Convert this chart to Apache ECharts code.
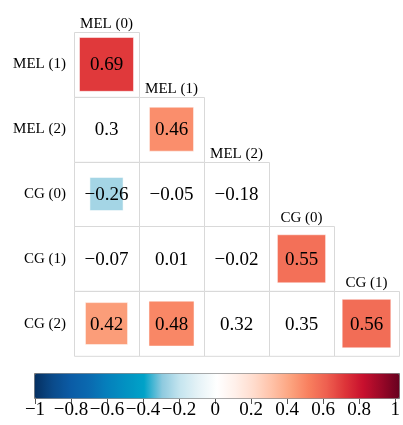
<!DOCTYPE html>
<html>
<head>
<meta charset="utf-8">
<script src="https://cdn.jsdelivr.net/npm/echarts@6/dist/echarts.min.js"></script>
<style>html,body{margin:0;padding:0;background:#fff}#c{width:403px;height:425px}</style>
</head>
<body>
<div id="c"></div>
<script>
// Column variables (x) and row variables (y) of the lower-triangular correlation matrix
var colNames = ['MEL (0)', 'MEL (1)', 'MEL (2)', 'CG (0)', 'CG (1)'];
var rowNames = ['MEL (1)', 'MEL (2)', 'CG (0)', 'CG (1)', 'CG (2)'];
// correlations, one row per row variable
var rowMEL1 = [0.69];
var rowMEL2 = [0.30, 0.46];
var rowCG0  = [-0.26, -0.05, -0.18];
var rowCG1  = [-0.07, 0.01, -0.02, 0.55];
var rowCG2  = [0.42, 0.48, 0.32, 0.35, 0.56];
// significance flags (1 = coloured square shown)
var sigMEL1 = [1];
var sigMEL2 = [0, 1];
var sigCG0  = [1, 0, 0];
var sigCG1  = [0, 0, 0, 1];
var sigCG2  = [1, 1, 0, 0, 1];
var colorbarTicks = [-1, -0.8, -0.6, -0.4, -0.2, 0, 0.2, 0.4, 0.6, 0.8, 1];

var rowsVals = [rowMEL1, rowMEL2, rowCG0, rowCG1, rowCG2];
var rowsSig = [sigMEL1, sigMEL2, sigCG0, sigCG1, sigCG2];
var data = [];
rowsVals.forEach(function (r, i) {
  r.forEach(function (v, j) { data.push([j, i, v, rowsSig[i][j]]); });
});

var FONT = '"Liberation Serif", "Times New Roman", serif';
function fmt(v) {
  var s = String(Math.abs(Math.round(v * 100) / 100));
  return (v < 0 ? '\u2212' : '') + s;
}

var chart = echarts.init(document.getElementById('c'), null, {renderer: 'canvas'});
chart.setOption({
  animation: false,
  backgroundColor: '#fff',
  grid: [
    {left: 74, right: 4, top: 32, bottom: 69},
    {left: 35, width: 364, top: 373, height: 25, show: false}
  ],
  xAxis: [
    {type: 'category', data: colNames, gridIndex: 0, show: false},
    {type: 'value', gridIndex: 1, min: -1, max: 1, interval: 0.2, position: 'bottom',
     axisLine: {show: false}, splitLine: {show: false},
     axisTick: {show: true, length: 6, lineStyle: {color: '#555', width: 1}},
     axisLabel: {margin: 3, fontFamily: FONT, fontSize: 19, color: '#000',
       formatter: function (v) { var r = Math.round(v * 10) / 10; return (r < 0 ? '\u2212' : '') + Math.abs(r); }}}
  ],
  yAxis: [
    {type: 'category', data: rowNames, gridIndex: 0, inverse: true,
     axisLine: {show: false}, axisTick: {show: false}, splitLine: {show: false},
     axisLabel: {margin: 8, fontFamily: FONT, fontSize: 15, color: '#000'}},
    {type: 'value', gridIndex: 1, show: false}
  ],
  visualMap: {
    type: 'continuous', min: -1, max: 1, dimension: 2, seriesIndex: 0,
    orient: 'horizontal', left: 34, top: 373, itemWidth: 25, itemHeight: 365,
    padding: 0, calculable: false, showLabel: false, text: null, hoverLink: false,
    borderColor: '#777', borderWidth: 1,
    inRange: {color: ['#053061', '#0A4A8A', '#0B5CA6', '#0A6AB0', '#0580BC', '#0292C2', '#00A2C8',
      '#8ECADF', '#C6E5EF', '#E6F3F7', '#FFFFFF', '#FFF0EA', '#FFDCCD', '#FFC2A8', '#FCA480',
      '#F8805F', '#EE6050', '#DE3539', '#C8102E', '#9A0828', '#67001F']}
  },
  series: [
    {
      type: 'custom', coordinateSystem: 'cartesian2d', xAxisIndex: 0, yAxisIndex: 0,
      data: data,
      encode: {x: 0, y: 1},
      renderItem: function (params, api) {
        var x = api.value(0), y = api.value(1), v = api.value(2), s = api.value(3);
        var c = api.coord([x, y]);
        var sz = api.size([1, 1]);
        var w = sz[0], h = sz[1];
        var children = [{
          type: 'rect',
          shape: {x: Math.round(c[0] - w / 2) + 0.5, y: Math.round(c[1] - h / 2) + 0.5, width: w, height: h},
          style: {fill: '#fff', stroke: '#d9d9d9', lineWidth: 1}
        }];
        if (s) {
          var k = Math.sqrt(Math.abs(v));
          children.push({
            type: 'rect',
            shape: {x: c[0] - k * w / 2, y: c[1] - k * h / 2, width: k * w, height: k * h},
            style: {fill: api.visual('color'), stroke: 'rgba(255,255,255,0.5)', lineWidth: 1}
          });
        }
        children.push({
          type: 'text',
          style: {text: fmt(v), x: c[0], y: c[1] + 1, align: 'center', verticalAlign: 'middle',
                  font: '19px ' + FONT, fill: '#000'}
        });
        if (x === y) {
          children.push({
            type: 'text',
            style: {text: colNames[x], x: c[0], y: c[1] - h / 2 - 0.5, align: 'center', verticalAlign: 'bottom',
                    font: '15px ' + FONT, fill: '#000'}
          });
        }
        return {type: 'group', children: children};
      }
    }
  ]
});
</script>
</body>
</html>
